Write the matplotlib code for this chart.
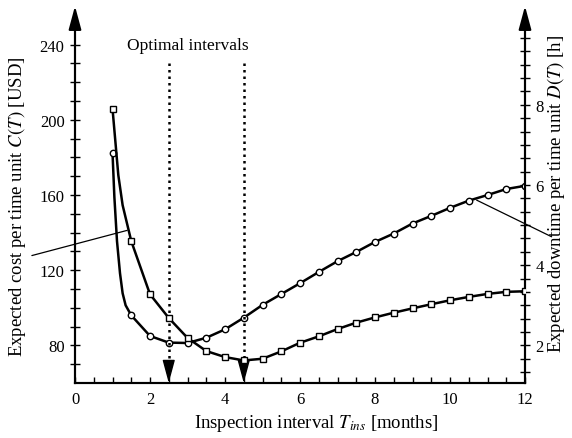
import matplotlib
matplotlib.use("Agg")
import matplotlib.pyplot as plt
import matplotlib.ticker as mticker

plt.rcParams["font.family"] = ["Liberation Serif", "DejaVu Serif"]
plt.rcParams["mathtext.fontset"] = "stix"

# inspection interval [months] at the markers
t_marks = [1.0, 1.5, 2.0, 2.5, 3.0, 3.5, 4.0, 4.5, 5.0, 5.5, 6.0, 6.5,
           7.0, 7.5, 8.0, 8.5, 9.0, 9.5, 10.0, 10.5, 11.0, 11.5, 12.0]
# expected cost C(T) [USD] (squares, left axis)
cost = [206, 135.5, 107.2, 94.6, 84.0, 77.0, 73.8, 72.0, 72.9, 76.8, 81.4, 84.8,
        88.7, 92.1, 94.9, 97.4, 99.7, 101.9, 104.0, 105.8, 107.4, 108.5, 108.8]
# expected downtime D(T) [h] (circles, right axis)
downtime = [6.81, 2.75, 2.235, 2.07, 2.06, 2.19, 2.40, 2.69, 3.01, 3.28, 3.55, 3.83,
            4.10, 4.33, 4.58, 4.79, 5.04, 5.23, 5.43, 5.61, 5.75, 5.90, 5.98]

# extra points on the steep part between 1 and 1.5 months
t_cost_extra = [1.07, 1.155, 1.27]
cost_extra = [190.0, 170.6, 154.6]
t_down_extra = [1.05, 1.12, 1.2, 1.27, 1.35]
down_extra = [5.7, 4.6, 3.8, 3.3, 3.0]

optimal = [2.5, 4.5]

c_lim = (60, 251)
# right axis: 2 h sits at 80 USD, 2 h span = 40 USD * 80/75
def c_to_d(c):
    return 2 + (c - 80) * 0.046875

fig = plt.figure(figsize=(5.72, 4.39), dpi=100)
ax = fig.add_axes([75 / 572, 1 - 384 / 439, 450 / 572, (384 - 25) / 439])
ax2 = ax.twinx()

# lines through marker points plus the extra points
tc = sorted(t_marks + t_cost_extra)
cc = [dict(zip(t_marks + t_cost_extra, cost + cost_extra))[t] for t in tc]
td = sorted(t_marks + t_down_extra)
dd = [dict(zip(t_marks + t_down_extra, downtime + down_extra))[t] for t in td]

ax.plot(tc, cc, color="black", lw=1.8, zorder=3)
ax.plot(t_marks, cost, ls="none", marker="s", ms=4.3, mfc="white", mec="black",
        mew=1.0, zorder=5)
ax2.plot(td, dd, color="black", lw=1.8, zorder=3)
ax2.plot(t_marks, downtime, ls="none", marker="o", ms=4.6, mfc="white", mec="black",
         mew=1.0, zorder=5)

ax.set_xlim(0, 12)
ax.set_ylim(*c_lim)
ax2.set_ylim(c_to_d(c_lim[0]), c_to_d(c_lim[1]))

head = "-|>,head_length=1.3,head_width=0.35"

# optimal interval markers
for t in optimal:
    ax.plot([t, t], [230, 68], color="black", ls=(0, (1, 1.6)), lw=1.8, zorder=2)
    ax.annotate("", xy=(t, 60), xytext=(t, 70),
                arrowprops=dict(arrowstyle=head, color="black", lw=1,
                                mutation_scale=11, shrinkA=0, shrinkB=0), zorder=4)
ax.text(3.0, 240, "Optimal intervals", ha="center", va="center", fontsize=12.5)

# spines
for a in (ax, ax2):
    a.spines["top"].set_visible(False)
    a.spines["left"].set_linewidth(1.5)
    a.spines["right"].set_linewidth(1.5)
    a.spines["bottom"].set_linewidth(1.5)
ax.set_zorder(ax2.get_zorder() + 1)
ax.patch.set_visible(False)

# arrow heads at axis tops
for xa in (0, 1):
    ax.annotate("", xy=(xa, 1.05), xycoords="axes fraction",
                xytext=(xa, 0.98), textcoords="axes fraction",
                arrowprops=dict(arrowstyle=head, color="black", lw=1.5,
                                mutation_scale=11, shrinkA=0, shrinkB=0),
                annotation_clip=False)

# ticks
ax.xaxis.set_major_locator(mticker.MultipleLocator(2))
ax.xaxis.set_minor_locator(mticker.MultipleLocator(0.5))
ax.yaxis.set_major_locator(mticker.FixedLocator([80, 120, 160, 200, 240]))
ax.yaxis.set_minor_locator(mticker.FixedLocator(range(70, 241, 10)))
ax2.yaxis.set_major_locator(mticker.FixedLocator([2, 4, 6, 8]))
ax2.yaxis.set_minor_locator(mticker.FixedLocator([k / 3 for k in range(4, 30)]))

ax.tick_params(axis="x", which="both", direction="in", length=4, width=1.0,
               labelsize=12, pad=6)
ax.tick_params(axis="y", which="both", direction="inout", length=7, width=1.0,
               labelsize=12, pad=4)
ax2.tick_params(axis="y", which="both", direction="inout", length=7, width=1.0,
                labelsize=12, pad=4)

ax.set_xlabel(r"Inspection interval $T_{ins}$ [months]", fontsize=13.5)
ax.xaxis.set_label_coords(0.535, -0.08)
ax.set_ylabel(r"Expected cost per time unit $C(T)$ [USD]", fontsize=13.5)
ax.yaxis.set_label_coords(-0.104, 0.493)
ax2.set_ylabel(r"Expected downtime per time unit $D(T)$ [h]", fontsize=13.5)
ax2.yaxis.set_label_coords(1.044, 0.53)

# leader lines from labels to curves
ax.annotate("", xy=(1.39, 141.2), xytext=(-1.15, 127.8),
            arrowprops=dict(arrowstyle="-", lw=0.9, color="black",
                            shrinkA=0, shrinkB=0), annotation_clip=False)
ax.annotate("", xy=(10.71, 157.3), xytext=(12.71, 137.8),
            arrowprops=dict(arrowstyle="-", lw=0.9, color="black",
                            shrinkA=0, shrinkB=0), annotation_clip=False)

fig.savefig("out.png", dpi=100)
